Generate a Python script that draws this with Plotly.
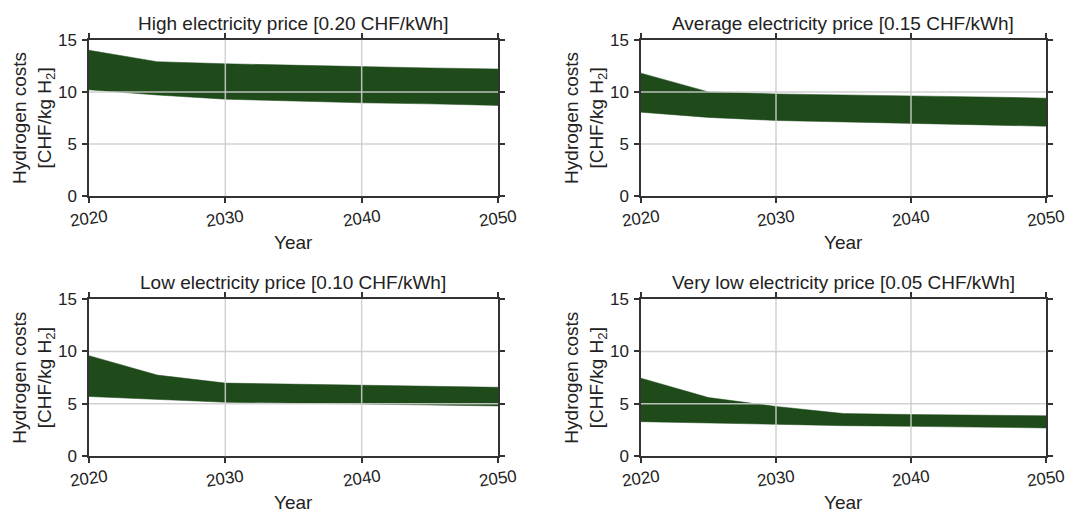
import plotly.graph_objects as go

years = [2020, 2025, 2030, 2035, 2040, 2045, 2050]

titles = [
    "High electricity price [0.20 CHF/kWh]",
    "Average electricity price [0.15 CHF/kWh]",
    "Low electricity price [0.10 CHF/kWh]",
    "Very low electricity price [0.05 CHF/kWh]",
]

high_upper = [14.0, 12.9, 12.7, 12.55, 12.4, 12.3, 12.2]
high_lower = [10.2, 9.7, 9.3, 9.1, 8.95, 8.85, 8.7]

avg_upper = [11.8, 10.0, 9.8, 9.72, 9.65, 9.52, 9.4]
avg_lower = [8.05, 7.55, 7.25, 7.1, 6.95, 6.82, 6.7]

low_upper = [9.6, 7.75, 6.98, 6.87, 6.77, 6.67, 6.58]
low_lower = [5.7, 5.45, 5.15, 5.07, 5.0, 4.9, 4.8]

vlow_upper = [7.45, 5.6, 4.75, 4.07, 3.98, 3.92, 3.86]
vlow_lower = [3.3, 3.15, 3.0, 2.92, 2.85, 2.77, 2.7]

uppers = [high_upper, avg_upper, low_upper, vlow_upper]
lowers = [high_lower, avg_lower, low_lower, vlow_lower]

x_ticks = [2020, 2030, 2040, 2050]
x_tick_labels = ["2020", "2030", "2040", "2050"]
y_ticks = [0, 5, 10, 15]
x_title = "Year"
y_title = "Hydrogen costs<br>[CHF/kg H<sub>2</sub>]"

FILL = "#1f4a1a"
W, H = 1090, 525

# plot areas in pixels (left, right, top, bottom)
boxes = [
    (89, 498, 32, 194),
    (641, 1046, 32, 194),
    (89, 498, 301, 464),
    (641, 1046, 301, 464),
]

font_family = "Liberation Sans, Arial, sans-serif"
TXT = "#222222"
fig = go.Figure()
layout = dict(
    width=W, height=H,
    margin=dict(l=0, r=0, t=0, b=0),
    paper_bgcolor="white", plot_bgcolor="white",
    showlegend=False,
    font=dict(family=font_family, color=TXT),
)
annotations = []
shapes = []

for i in range(4):
    n = "" if i == 0 else str(i + 1)
    xa, ya = "x" + n, "y" + n
    l, r, t, b = boxes[i]
    fig.add_trace(go.Scatter(x=years, y=lowers[i], mode="lines",
                             line=dict(color=FILL, width=0.5),
                             xaxis=xa, yaxis=ya, hoverinfo="skip"))
    fig.add_trace(go.Scatter(x=years, y=uppers[i], mode="lines",
                             line=dict(color=FILL, width=0.5),
                             fill="tonexty", fillcolor=FILL,
                             xaxis=xa, yaxis=ya, hoverinfo="skip"))
    axis_common = dict(
        showgrid=False, zeroline=False, showline=True, mirror="allticks",
        linecolor="#333333", linewidth=1.5, ticks="outside", ticklen=5,
        tickwidth=1.5, tickcolor="#333333",
        tickfont=dict(size=17, family=font_family, color=TXT),
    )
    layout["xaxis" + n] = dict(
        axis_common, domain=[l / W, r / W], anchor=ya, range=[2020, 2050],
        tickvals=x_ticks, showticklabels=False,
    )
    layout["yaxis" + n] = dict(
        axis_common, domain=[1 - b / H, 1 - t / H], anchor=xa, range=[0, 15],
        tickvals=y_ticks, ticklabelstandoff=2,
    )
    # subplot title
    annotations.append(dict(
        text=titles[i], x=(l + r) / 2 / W, y=1 - (t - 17) / H,
        xref="paper", yref="paper", xanchor="center", yanchor="middle",
        showarrow=False, font=dict(size=19, family=font_family, color=TXT),
    ))
    # rotated x tick labels, centred under each tick
    for xv, lab in zip(x_ticks, x_tick_labels):
        annotations.append(dict(
            text=lab, x=xv, xref=xa, y=1 - (b + 23) / H, yref="paper",
            xanchor="center", yanchor="middle", textangle=-8, showarrow=False,
            font=dict(size=17, family=font_family, color=TXT),
        ))
    # x axis title
    annotations.append(dict(
        text=x_title, x=(l + r) / 2 / W, y=1 - (b + 48) / H,
        xref="paper", yref="paper", xanchor="center", yanchor="middle",
        showarrow=False, font=dict(size=19, family=font_family, color=TXT),
    ))
    # y axis title
    annotations.append(dict(
        text=y_title, x=(l - 55) / W, y=1 - (t + b) / 2 / H,
        xref="paper", yref="paper", xanchor="center", yanchor="middle",
        textangle=-90, showarrow=False,
        font=dict(size=19, family=font_family, color=TXT),
    ))
    gcol = "rgba(205,205,205,0.9)"
    for xv in [2030, 2040]:
        shapes.append(dict(type="line", xref=xa, yref=ya + " domain", x0=xv, x1=xv,
                           y0=0, y1=1, line=dict(color=gcol, width=1.5), layer="above"))
    for yv in [5, 10]:
        shapes.append(dict(type="line", xref=xa + " domain", yref=ya, x0=0, x1=1,
                           y0=yv, y1=yv, line=dict(color=gcol, width=1.5), layer="above"))

layout["annotations"] = annotations
layout["shapes"] = shapes
fig.update_layout(**layout)
fig.write_html("out.html")
